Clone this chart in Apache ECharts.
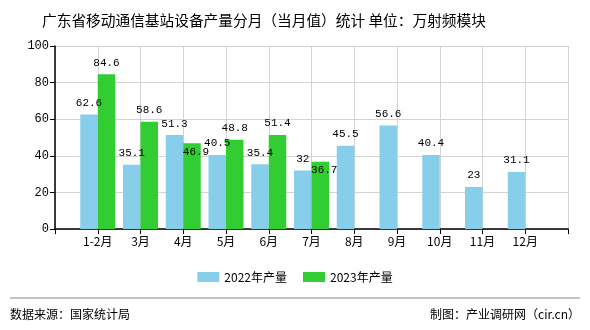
<!DOCTYPE html>
<html><head><meta charset="utf-8">
<script src="https://cdn.jsdelivr.net/npm/echarts@6/dist/echarts.min.js"></script>
<style>html,body{margin:0;padding:0;background:#fff}#c{width:590px;height:330px}</style>
</head><body><div id="c"></div>
<script>
const categories = ['1-2月','3月','4月','5月','6月','7月','8月','9月','10月','11月','12月'];
const values2022 = [62.6,35.1,51.3,40.5,35.4,32,45.5,56.6,40.4,23,31.1];
const values2023 = [84.6,58.6,46.9,48.8,51.4,36.7];
const seriesNames = ['2022年产量','2023年产量'];
const yTicks = [0,20,40,60,80,100];
const insideLabelIdx2023 = [2,5];

// pad one empty slot on each side so the axis runs past the first/last group
const paddedCats = [''].concat(categories, ['']);
const pad = arr => [null].concat(arr, new Array(categories.length + 1 - arr.length).fill(null));

const chart = echarts.init(document.getElementById('c'));
const numFont = '"Liberation Mono", monospace';
const cjk = '"Noto Sans CJK SC", sans-serif';
const data2023 = values2023.map((v,i)=>insideLabelIdx2023.includes(i)
  ? {value:v,label:{position:'insideTop',distance:3,offset:[4,0]}} : v);
chart.setOption({
  animation:false,
  backgroundColor:'#fff',
  title:{text:'广东省移动通信基站设备产量分月（当月值）统计 单位：万射频模块',left:37,top:8,
    textStyle:{fontSize:14.7,fontWeight:'normal',color:'#000',fontFamily:cjk}},
  grid:{left:55,right:22,top:46,bottom:101},
  legend:{data:seriesNames,top:266,left:'center',itemWidth:22,itemHeight:10,itemGap:16,
    icon:'rect',textStyle:{fontSize:12,color:'#000',fontFamily:cjk}},
  xAxis:{type:'category',data:paddedCats,boundaryGap:false,
    axisLine:{lineStyle:{color:'#000',width:1.5}},
    axisTick:{length:5,lineStyle:{color:'#000'}},
    splitLine:{show:true,lineStyle:{color:'#d3d3d3'}},
    axisLabel:{color:'#000',fontSize:12,fontFamily:cjk,margin:6,interval:0}},
  yAxis:{type:'value',min:yTicks[0],max:yTicks[yTicks.length-1],interval:yTicks[1]-yTicks[0],
    axisLine:{show:true,lineStyle:{color:'#000',width:1.5}},
    axisTick:{show:true,length:5,lineStyle:{color:'#000'}},
    splitLine:{lineStyle:{color:'#d3d3d3'}},
    axisLabel:{color:'#000',fontSize:12,fontFamily:numFont,margin:6}},
  graphic:[
    {type:'line',shape:{x1:10,y1:298,x2:580,y2:298},style:{stroke:'#888',lineWidth:1}},
    {type:'text',left:10,top:308,style:{text:'数据来源：国家统计局',fontSize:12,fill:'#000',fontFamily:cjk}},
    {type:'text',right:10,top:308,style:{text:'制图：产业调研网（cir.cn）',fontSize:12,fill:'#000',fontFamily:cjk}}
  ],
  series:[
    {name:seriesNames[0],type:'bar',data:pad(values2022),barGap:'0%',barWidth:17.5,
      itemStyle:{color:'#87CEEB'},
      label:{show:true,position:'top',distance:6,color:'#000',fontSize:11,fontFamily:numFont}},
    {name:seriesNames[1],type:'bar',barGap:'0%',barWidth:17.5,
      data:pad(data2023),
      itemStyle:{color:'#32CD32'},
      label:{show:true,position:'top',distance:6,color:'#000',fontSize:11,fontFamily:numFont}}
  ]
});
</script></body></html>
